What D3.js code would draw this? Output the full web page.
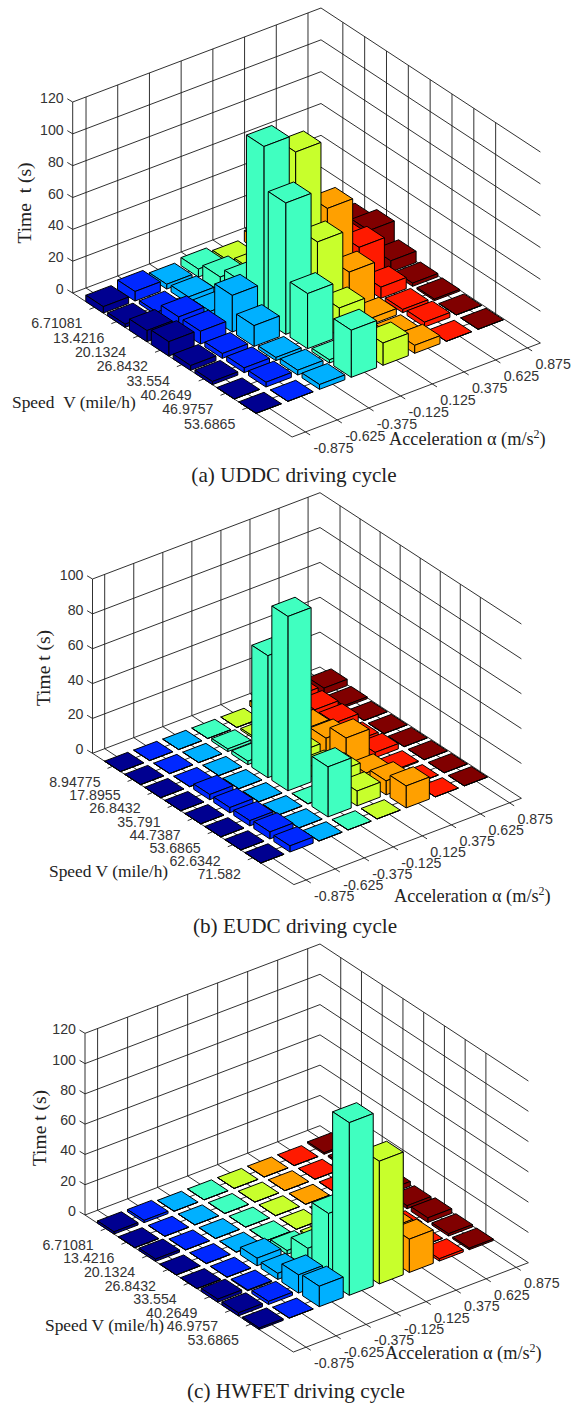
<!DOCTYPE html>
<html>
<head>
<meta charset="utf-8">
<script src="https://cdn.jsdelivr.net/npm/d3@7"></script>
<style>
    html, body { margin: 0; padding: 0; background: #fff; }
    svg { display: block; }
    .tick { font-family: "Liberation Sans", sans-serif; font-size: 14.2px; fill: #333; }
    .label { font-family: "Liberation Serif", serif; font-size: 18.3px; fill: #222; }
    .speed-label { font-size: 17.4px; }
    .time-label { font-size: 19.5px; }
    .caption { font-family: "Liberation Serif", serif; font-size: 21.2px; fill: #222; text-anchor: middle; }
</style>
</head>
<body>
<script>
    const accelTicks = ["-0.875", "-0.625", "-0.375", "-0.125", "0.125", "0.375", "0.625", "0.875"];
    const barColors = ["#000090", "#0028ff", "#00b0ff", "#40ffc0", "#c8ff2c", "#ffa000", "#ff1a00", "#800000"];

    const speedTicksUddc = ["6.71081", "13.4216", "20.1324", "26.8432", "33.554", "40.2649", "46.9757", "53.6865"];
    const speedTicksEudc = ["8.94775", "17.8955", "26.8432", "35.791", "44.7387", "53.6865", "62.6342", "71.582"];
    const speedTicksHwfet = speedTicksUddc;

    const timeTicksUddc = [0, 20, 40, 60, 80, 100, 120];
    const timeTicksEudc = [0, 20, 40, 60, 80, 100];
    const timeTicksHwfet = timeTicksUddc;

    // one row per acceleration bin, one value per speed bin, seconds
    const timesUddc = [
        [4, 2, 7, 9, 3, 2, 0, 0],
        [6, 2, 8, 8, 3, 3, 3, 0],
        [3, 4, 4, 23, 13, 2, 3, 3],
        [5, 9, 15, 109, 82.5, 34.6, 2, 29.6],
        [2, 6, 12, 98, 50.5, 18, 3, 14],
        [7, 12, 30, 55, 24, 4, 2, 5],
        [10, 14, 19, 23, 7, 2, 3, 0],
        [8, 12, 17, 7, 2, 1, 0, 0]
    ];
    const timesEudc = [
        [0, 0, 0, 0, 0, 0, 0, 0],
        [0, 0, 0, 3, 3, 3, 4, 3.5],
        [0, 0, 0, 0, 0, 0, 0, 0],
        [0, 1.5, 2, 70, 100, 0, 28.7, 0],
        [0, 1, 4, 8, 6, 12, 8.5, 0],
        [3, 5, 8, 10, 17.6, 5, 8, 12.6],
        [5, 5, 5, 2, 3, 0.5, 0, 0],
        [3.6, 1, 0, 0, 0, 0, 0, 0]
    ];
    const timesHwfet = [
        [1.5, 0, 1.5, 0, 0, 2, 2, 1],
        [1.5, 0, 0, 0, 0, 0.5, 2, 0],
        [0, 0, 0, 0, 5, 4, 12, 13.5],
        [0, 0, 0, 0, 2.5, 13, 45, 114],
        [0, 0, 0, 0, 1, 4, 5, 81],
        [0, 0, 0, 0, 3, 4, 20, 22],
        [0, 0, 0, 0, 0, 2, 0, 1.5],
        [1, 1, 2, 3, 2, 3, 1.5, 1]
    ];

    const panels = [
        {
            left: [72.7, 293], back: [321, 199], right: [540.4, 343], zTop: 120, zPx: 191,
            times: timesUddc, speedTicks: speedTicksUddc, timeTicks: timeTicksUddc,
            timeLabel: "Time\u00a0\u00a0t (s)", timeAt: [31, 203],
            speedLabel: "Speed\u00a0\u00a0V (mile/h)", speedAt: [12, 408],
            accelAt: [389, 445], caption: "(a) UDDC driving cycle", captionAt: [294, 482]
        },
        {
            left: [92.5, 753.3], back: [320, 667], right: [521.4, 798.3], zTop: 100, zPx: 174.3,
            times: timesEudc, speedTicks: speedTicksEudc, timeTicks: timeTicksEudc,
            timeLabel: "Time t (s)", timeAt: [50, 668],
            speedLabel: "Speed V (mile/h)", speedAt: [49, 877],
            accelAt: [394, 902], caption: "(b) EUDC driving cycle", captionAt: [295, 933]
        },
        {
            left: [85, 1215], back: [320, 1125.7], right: [528.4, 1262.7], zTop: 120, zPx: 181.7,
            times: timesHwfet, speedTicks: speedTicksHwfet, timeTicks: timeTicksHwfet,
            timeLabel: "Time t (s)", timeAt: [46, 1128],
            speedLabel: "Speed V (mile/h)", speedAt: [45, 1331],
            accelAt: [385, 1359], caption: "(c) HWFET driving cycle", captionAt: [296, 1398]
        }
    ];

    const svg = d3.select("body").append("svg")
        .attr("width", 584)
        .attr("height", 1404);

    const outline = d3.line();

    panels.forEach(drawPanel);

    function drawPanel(p) {
        // the plot is an orthographic view, so each data axis is a straight pixel vector
        const speedRange = 10.05, accelRange = 7.83;
        const speedX = d3.scaleLinear().domain([0, speedRange]).range([0, p.right[0] - p.back[0]]);
        const speedY = d3.scaleLinear().domain([0, speedRange]).range([0, p.right[1] - p.back[1]]);
        const accelX = d3.scaleLinear().domain([0, accelRange]).range([0, p.back[0] - p.left[0]]);
        const accelY = d3.scaleLinear().domain([0, accelRange]).range([0, p.back[1] - p.left[1]]);
        const timeY = d3.scaleLinear().domain([0, p.zTop]).range([0, p.zPx]);

        const project = (u, v, z) => [
            p.left[0] + speedX(u) + accelX(v),
            p.left[1] + speedY(u) + accelY(v) - timeY(z)
        ];
        const g = svg.append("g");
        const speedPos = d3.range(1, 9);
        const accelPos = d3.range(8).map(j => j + 0.42);

        function stroke(a, b, width) {
            g.append("path")
                .attr("d", outline([a, b]))
                .attr("fill", "none")
                .attr("stroke", "#1a1a1a")
                .attr("stroke-width", width || 0.9);
        }

        // walls
        p.timeTicks.forEach(t => {
            stroke(project(0, 0, t), project(0, accelRange, t));
            stroke(project(0, accelRange, t), project(speedRange, accelRange, t));
            const a = project(0, 0, t);
            stroke(a, [a[0] - 5.4, a[1] - 3.2]);
        });
        accelPos.forEach(v => stroke(project(0, v, 0), project(0, v, p.zTop)));
        speedPos.forEach(u => stroke(project(u, accelRange, 0), project(u, accelRange, p.zTop)));
        stroke(project(0, 0, 0), project(0, 0, p.zTop));

        // floor
        stroke(project(0, 0, 0), project(speedRange, 0, 0));
        stroke(project(speedRange, 0, 0), project(speedRange, accelRange, 0));
        speedPos.forEach(u => {
            const a = project(u, 0, 0);
            stroke(a, project(u, accelRange, 0));
            stroke(a, [a[0] - 5, a[1] + 2]);
        });
        accelPos.forEach(v => {
            const a = project(speedRange, v, 0);
            stroke(project(0, v, 0), a);
            stroke(a, [a[0] + 4.7, a[1] + 3]);
        });

        // bars, far ones first so the near ones paint over them
        const bars = [];
        p.times.forEach((row, j) => row.forEach((value, i) => bars.push({i: i, j: j, value: value})));
        bars.sort((a, b) => d3.ascending(a.i - a.j, b.i - b.j));

        const half = 0.4;
        const bar = g.selectAll(".bar")
            .data(bars)
            .enter().append("g")
            .attr("class", "bar")
            .attr("fill", d => barColors[d.j])
            .attr("stroke", "#000")
            .attr("stroke-width", 1)
            .attr("stroke-linejoin", "round");

        const faces = [
            // top
            d => [[-1, -1, 1], [1, -1, 1], [1, 1, 1], [-1, 1, 1]],
            // side towards the speed axis end
            d => [[1, -1, 0], [1, 1, 0], [1, 1, 1], [1, -1, 1]],
            // side towards low acceleration
            d => [[-1, -1, 0], [1, -1, 0], [1, -1, 1], [-1, -1, 1]]
        ];
        faces.forEach(face => {
            bar.append("path")
                .attr("d", d => outline(face(d).map(c =>
                    project(d.i + 1 + c[0] * half, d.j + 0.4 + c[1] * half, c[2] * d.value))) + "Z");
        });

        // tick labels
        p.timeTicks.forEach(t => {
            const a = project(0, 0, t);
            g.append("text").attr("class", "tick")
                .attr("x", a[0] - 9).attr("y", a[1] + 1)
                .attr("text-anchor", "end")
                .text(t);
        });
        p.speedTicks.forEach((s, k) => {
            const a = project(speedPos[k], 0, 0);
            g.append("text").attr("class", "tick")
                .attr("x", a[0] - 12).attr("y", a[1] + 21)
                .attr("text-anchor", "end")
                .text(s);
        });
        accelTicks.forEach((s, k) => {
            const a = project(speedRange, accelPos[k], 0);
            g.append("text").attr("class", "tick")
                .attr("x", a[0] + 8).attr("y", a[1] + 21)
                .text(s);
        });

        // axis labels and caption
        g.append("text").attr("class", "label time-label")
            .attr("transform", "translate(" + p.timeAt[0] + "," + p.timeAt[1] + ") rotate(-90)")
            .attr("text-anchor", "middle")
            .text(p.timeLabel);
        g.append("text").attr("class", "label speed-label")
            .attr("x", p.speedAt[0]).attr("y", p.speedAt[1])
            .text(p.speedLabel);
        const accel = g.append("text").attr("class", "label")
            .attr("x", p.accelAt[0]).attr("y", p.accelAt[1]);
        accel.append("tspan").text("Acceleration \u03b1 (m/s");
        accel.append("tspan").attr("dy", -7).attr("font-size", "12px").text("2");
        accel.append("tspan").attr("dy", 7).text(")");
        g.append("text").attr("class", "caption")
            .attr("x", p.captionAt[0]).attr("y", p.captionAt[1])
            .text(p.caption);
    }
</script>
</body>
</html>
